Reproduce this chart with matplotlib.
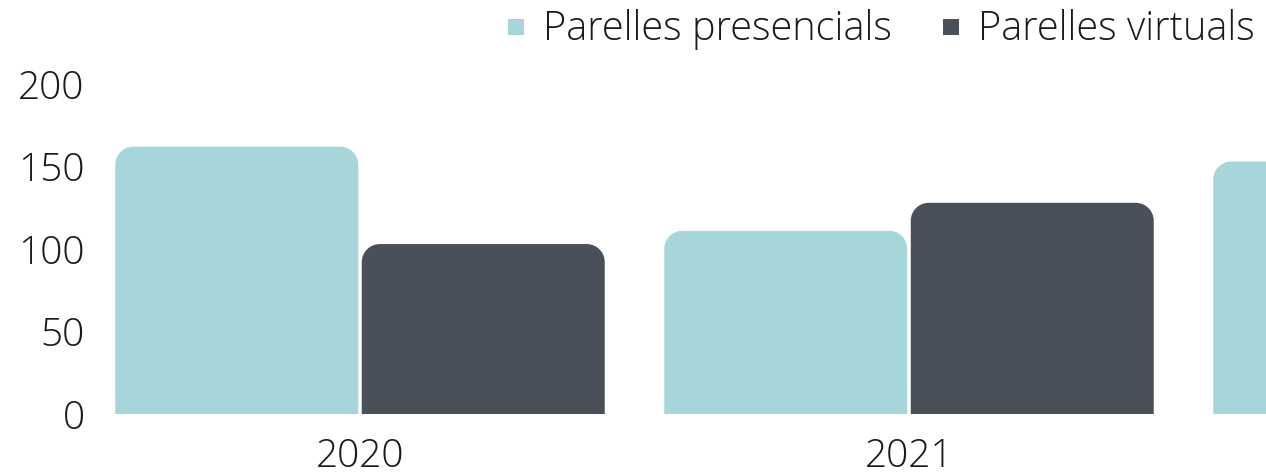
import matplotlib
matplotlib.use("Agg")
import matplotlib.pyplot as plt
from matplotlib.path import Path
from matplotlib.patches import PathPatch
from matplotlib.lines import Line2D

categories = ["2020", "2021", "2022"]
presencials = [162, 111, 153]
virtuals = [103, 128, 0]
series_names = ["Parelles presencials", "Parelles virtuals"]
colors = ["#a7d6da", "#495059"]
yticks = [0, 50, 100, 150, 200]

fam = "Open Sans"
plt.rcParams["font.family"] = [fam, "DejaVu Sans"]
plt.rcParams["font.weight"] = "light"

W, H = 1266, 475
fig = plt.figure(figsize=(W / 100, H / 100), dpi=100)
ax = fig.add_axes([100 / W, 61 / H, (W - 100) / W, 330 / H])

bw = 0.4426
off = 0.2245
xs = list(range(len(categories)))
bars1 = ax.bar([x - off for x in xs], presencials, width=bw, color=colors[0], linewidth=0)
bars2 = ax.bar([x + off for x in xs], virtuals, width=bw, color=colors[1], linewidth=0)

ax.set_xticks(xs)
ax.set_xticklabels(categories)
ax.set_yticks(yticks)
ax.set_xlim((100 - 360) / 549, (1266 - 360) / 549)
ax.set_ylim(0, 200)

fig.canvas.draw()
# rounded top corners
px_x = ax.transData.transform((1, 0))[0] - ax.transData.transform((0, 0))[0]
px_y = ax.transData.transform((0, 1))[1] - ax.transData.transform((0, 0))[1]
r = 18
k = 0.5523
for bars in (bars1, bars2):
    for b in bars:
        x0, y0, w, h = b.get_x(), b.get_y(), b.get_width(), b.get_height()
        if h <= 0:
            b.remove()
            continue
        rx = r / px_x
        ry = min(r / px_y, h)
        x1, y1 = x0 + w, y0 + h
        verts = [
            (x0, y0), (x0, y1 - ry),
            (x0, y1 - ry + k * ry), (x0 + rx - k * rx, y1), (x0 + rx, y1),
            (x1 - rx, y1),
            (x1 - rx + k * rx, y1), (x1, y1 - ry + k * ry), (x1, y1 - ry),
            (x1, y0), (x0, y0),
        ]
        codes = [Path.MOVETO, Path.LINETO,
                 Path.CURVE4, Path.CURVE4, Path.CURVE4,
                 Path.LINETO,
                 Path.CURVE4, Path.CURVE4, Path.CURVE4,
                 Path.LINETO, Path.CLOSEPOLY]
        patch = PathPatch(Path(verts, codes), facecolor=b.get_facecolor(),
                          edgecolor="none", clip_on=True)
        ax.add_patch(patch)
        b.remove()

for s in ax.spines.values():
    s.set_visible(False)
ax.tick_params(axis="both", length=0, labelsize=28, colors="#1a1a1a")
ax.tick_params(axis="x", pad=17)
ax.tick_params(axis="y", pad=11)

handles = [Line2D([], [], linestyle="none", marker="s", markersize=12.2,
                  markerfacecolor=c, markeredgewidth=0) for c in colors]
fig.legend(handles, series_names, loc="center left",
           bbox_to_anchor=(504 / W, 1 - 30 / H), ncol=2, frameon=False,
           fontsize=28.6, borderpad=0, borderaxespad=0, handlelength=0.6,
           handletextpad=0.38, columnspacing=1.2, labelcolor="#1a1a1a")

fig.savefig("out.png", dpi=100)
